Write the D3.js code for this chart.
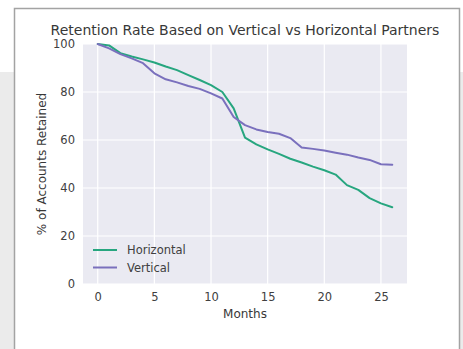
<!DOCTYPE html>
<html>
<head>
<meta charset="utf-8">
<script src="https://cdn.jsdelivr.net/npm/d3@7"></script>
<style>
  body { margin: 0; background: #fff; }
  svg { display: block; font-family: "DejaVu Sans", sans-serif; }
</style>
</head>
<body>
<svg id="drawing_area" width="463" height="349"></svg>
<script>
// months 0..26
var months = d3.range(0, 27)
var horizontal = [100, 99.4, 96.2, 94.8, 93.6, 92.3, 90.6, 89.1, 87.0, 85.0, 82.9, 80.0, 73.2,
                  61.0, 58.2, 56.1, 54.2, 52.2, 50.6, 48.9, 47.4, 45.6, 41.2, 39.2, 35.8, 33.6, 32.0]
var vertical = [100, 98.2, 95.8, 94.0, 92.0, 87.8, 85.3, 84.0, 82.5, 81.3, 79.4, 77.3, 69.6,
                66.2, 64.4, 63.3, 62.6, 60.8, 56.9, 56.3, 55.6, 54.7, 53.9, 52.7, 51.7, 49.9, 49.7]
var series_names = ["Horizontal", "Vertical"]
var colors = ["#27a67f", "#7a70bd"]
var y_ticks = [0, 20, 40, 60, 80, 100]
var x_ticks = [0, 5, 10, 15, 20, 25]

function draw() {
    var svg = d3.select("#drawing_area")

    // screenshot frame around the figure
    svg.append("rect").attr("x", 0).attr("y", 72).attr("width", 14).attr("height", 277).attr("fill", "#ebebeb")
    svg.append("rect").attr("x", 460).attr("y", 72).attr("width", 3).attr("height", 277).attr("fill", "#ebebeb")
    svg.append("path")
        .attr("d", "M14.5,349 V8.5 H459.5 V349")
        .attr("fill", "none")
        .attr("stroke", "#a3a3a3")
        .attr("stroke-width", 1.5)

    var left = 83, right = 407, top = 44, bottom = 284

    var x = d3.scaleLinear().domain([-1.3, 27.3]).range([left, right])
    var y = d3.scaleLinear().domain([0, 100]).range([bottom, top])

    // Plot background
    svg.append("rect")
        .attr("x", left).attr("y", top)
        .attr("width", right - left).attr("height", bottom - top)
        .attr("fill", "#eaeaf2")

    // Grid lines
    svg.append("g").selectAll("line").data(x_ticks).enter().append("line")
        .attr("x1", d => x(d)).attr("x2", d => x(d))
        .attr("y1", top).attr("y2", bottom)
        .attr("stroke", "#fff").attr("stroke-width", 1.2)
    svg.append("g").selectAll("line").data(y_ticks).enter().append("line")
        .attr("x1", left).attr("x2", right)
        .attr("y1", d => y(d)).attr("y2", d => y(d))
        .attr("stroke", "#fff").attr("stroke-width", 1.2)

    // Axes (tick labels only, seaborn darkgrid style)
    var xAxis = svg.append("g")
        .attr("transform", "translate(0," + bottom + ")")
        .call(d3.axisBottom(x).tickValues(x_ticks).tickSize(0).tickPadding(9))
    var yAxis = svg.append("g")
        .attr("transform", "translate(" + left + ",0)")
        .call(d3.axisLeft(y).tickValues(y_ticks).tickSize(0).tickPadding(8))
    ;[xAxis, yAxis].forEach(function(a) {
        a.select(".domain").remove()
        a.selectAll("text")
            .attr("font-family", "DejaVu Sans")
            .attr("font-size", 11.5)
            .attr("fill", "#404040")
    })

    // Lines
    var all_series = [horizontal, vertical]
    var line = d3.line().x((d, i) => x(months[i])).y(d => y(d))
    for (var i = 0; i < all_series.length; i++) {
        svg.append("path")
            .datum(all_series[i])
            .attr("d", line)
            .attr("fill", "none")
            .attr("stroke", colors[i])
            .attr("stroke-width", 2)
            .attr("stroke-linejoin", "round")
            .attr("stroke-linecap", "round")
    }

    // Legend
    for (var i = 0; i < series_names.length; i++) {
        var ly = 250 + i * 17.5
        svg.append("line")
            .attr("x1", 93).attr("x2", 117)
            .attr("y1", ly).attr("y2", ly)
            .attr("stroke", colors[i]).attr("stroke-width", 2)
        svg.append("text")
            .attr("x", 127).attr("y", ly + 4)
            .attr("font-size", 11.5).attr("fill", "#404040")
            .text(series_names[i])
    }

    // Title and axis labels
    svg.append("text")
        .attr("x", 245).attr("y", 35)
        .attr("text-anchor", "middle")
        .attr("font-size", 14).attr("fill", "#383838")
        .text("Retention Rate Based on Vertical vs Horizontal Partners")
    svg.append("text")
        .attr("x", (left + right) / 2).attr("y", 318)
        .attr("text-anchor", "middle")
        .attr("font-size", 12).attr("fill", "#383838")
        .text("Months")
    svg.append("text")
        .attr("transform", "translate(46," + (top + bottom) / 2 + ") rotate(-90)")
        .attr("text-anchor", "middle")
        .attr("font-size", 12).attr("fill", "#383838")
        .text("% of Accounts Retained")
}

draw()
</script>
</body>
</html>
